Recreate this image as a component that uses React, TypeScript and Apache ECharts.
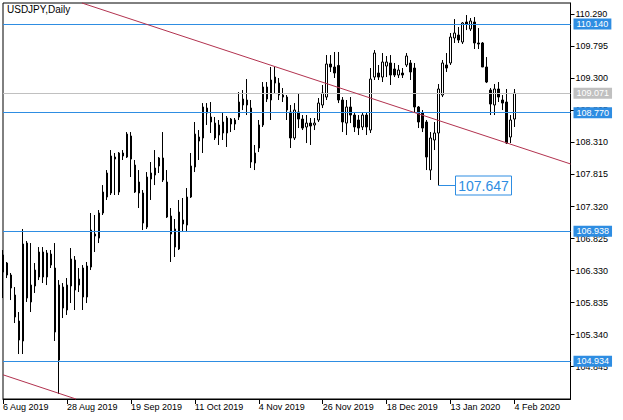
import React, { useEffect, useRef } from "react";
import * as echarts from "echarts";

// USDJPY daily candles, 6 Aug 2019 .. 4 Feb 2020 (index 0..128)
const opens = [
  106.571, 106.447, 106.262, 105.953, 105.551, 105.242, 106.756, 105.845, 106.092, 106.231,
  106.617, 106.231, 106.586, 106.370, 104.948, 106.076, 105.721, 106.092, 106.493, 106.107,
  106.370, 105.922, 106.385, 106.895, 106.833, 107.220, 107.467, 107.529, 108.085, 107.544,
  108.147, 108.085, 108.410, 107.961, 107.699, 107.529, 107.003, 107.745, 107.807, 107.946,
  108.070, 107.699, 107.173, 106.694, 106.664, 107.112, 107.034, 107.467, 107.931, 108.332,
  108.379, 108.842, 108.703, 108.610, 108.425, 108.626, 108.456, 108.672, 108.595, 108.703,
  108.981, 108.889, 108.842, 107.992, 108.224, 108.580, 109.167, 108.966, 109.321, 109.228,
  109.043, 109.012, 108.780, 108.379, 108.780, 108.672, 108.549, 108.610, 108.580, 108.657,
  108.889, 109.012, 109.522, 109.476, 109.500, 108.966, 108.610, 108.858, 108.734, 108.657,
  108.549, 108.734, 108.502, 109.321, 109.383, 109.321, 109.491, 109.538, 109.445, 109.352,
  109.383, 109.507, 109.538, 109.460, 108.858, 108.765, 108.626, 107.884, 108.348, 108.456,
  109.043, 109.507, 109.538, 109.924, 109.970, 109.862, 110.171, 110.063, 110.171, 109.847,
  109.847, 109.476, 109.120, 108.889, 109.136, 108.966, 108.935, 108.394, 108.672,
];
const closes = [
  106.308, 106.262, 106.061, 105.613, 105.257, 106.741, 105.906, 106.107, 106.339, 106.617,
  106.231, 106.602, 106.416, 105.381, 106.107, 105.752, 106.107, 106.509, 106.030, 106.200,
  105.922, 106.401, 106.957, 106.864, 107.220, 107.544, 107.838, 108.101, 108.054, 108.147,
  108.101, 108.440, 108.054, 107.544, 107.529, 107.065, 107.776, 107.838, 107.915, 108.070,
  107.730, 107.158, 106.895, 106.973, 107.235, 107.050, 107.467, 107.946, 108.440, 108.394,
  108.858, 108.765, 108.626, 108.379, 108.580, 108.456, 108.688, 108.595, 108.657, 108.935,
  108.889, 108.966, 108.008, 108.147, 108.580, 109.167, 108.981, 109.275, 109.228, 109.043,
  109.012, 108.811, 108.379, 108.811, 108.672, 108.533, 108.610, 108.564, 108.610, 108.919,
  109.074, 109.522, 109.476, 109.383, 108.966, 108.626, 108.858, 108.734, 108.549, 108.533,
  108.734, 108.549, 109.290, 109.692, 109.321, 109.553, 109.553, 109.352, 109.352, 109.429,
  109.352, 109.646, 109.399, 108.858, 108.626, 108.533, 108.085, 108.379, 108.456, 109.136,
  109.538, 109.460, 109.939, 110.001, 109.893, 110.156, 110.140, 110.187, 109.847, 109.831,
  109.476, 109.244, 108.904, 109.136, 109.012, 108.919, 108.301, 108.657, 109.071,
];
const lows = [
  105.906, 106.215, 105.875, 105.520, 105.041, 105.041, 105.845, 105.690, 105.984, 106.184,
  106.138, 106.107, 106.370, 105.242, 104.423, 105.597, 105.644, 105.829, 105.721, 105.999,
  105.721, 105.829, 106.339, 106.617, 106.756, 107.189, 107.421, 107.498, 107.498, 107.498,
  108.039, 108.070, 107.776, 107.529, 107.297, 106.957, 106.973, 107.421, 107.652, 107.838,
  107.699, 107.143, 106.463, 106.540, 106.648, 106.926, 106.926, 107.452, 107.853, 108.039,
  108.147, 108.580, 108.456, 108.348, 108.271, 108.348, 108.240, 108.471, 108.502, 108.657,
  108.811, 108.734, 107.915, 107.884, 108.162, 108.549, 108.935, 108.657, 109.074, 108.966,
  108.935, 108.657, 108.224, 108.348, 108.533, 108.502, 108.301, 108.271, 108.502, 108.626,
  108.842, 108.966, 109.399, 109.306, 108.919, 108.471, 108.425, 108.610, 108.471, 108.425,
  108.502, 108.425, 108.456, 109.275, 109.275, 109.244, 109.321, 109.198, 109.321, 109.306,
  109.306, 109.476, 109.275, 108.780, 108.533, 108.471, 107.884, 107.730, 108.193, 107.647,
  109.012, 109.399, 109.507, 109.847, 109.847, 109.831, 110.047, 110.032, 109.754, 109.754,
  109.476, 109.228, 108.734, 108.734, 108.935, 108.811, 108.286, 108.301, 108.549,
];
const highs = [
  106.648, 106.463, 106.293, 106.076, 105.690, 106.973, 106.787, 106.756, 106.447, 106.694,
  106.694, 106.648, 106.648, 106.756, 106.184, 106.138, 106.215, 106.679, 106.555, 106.370,
  106.416, 106.463, 107.220, 107.189, 107.266, 107.652, 107.884, 108.193, 108.147, 108.162,
  108.193, 108.471, 108.471, 108.039, 107.884, 107.575, 107.853, 108.008, 108.193, 108.085,
  108.471, 107.884, 107.297, 107.127, 107.421, 107.452, 107.606, 108.147, 108.626, 108.502,
  108.919, 108.919, 108.935, 108.703, 108.657, 108.765, 108.719, 108.688, 108.688, 109.089,
  109.120, 109.290, 108.966, 108.271, 108.657, 109.244, 109.244, 109.476, 109.476, 109.306,
  109.151, 109.043, 108.889, 108.919, 109.074, 108.734, 108.734, 108.688, 108.688, 108.997,
  109.198, 109.661, 109.661, 109.708, 109.708, 109.012, 108.966, 109.012, 108.780, 108.734,
  108.780, 108.780, 109.460, 109.738, 109.507, 109.692, 109.646, 109.661, 109.538, 109.507,
  109.460, 109.692, 109.584, 109.538, 108.873, 108.811, 108.657, 108.471, 108.626, 109.213,
  109.584, 109.692, 110.001, 110.217, 110.094, 110.171, 110.279, 110.233, 110.248, 110.078,
  109.862, 109.630, 109.151, 109.213, 109.244, 109.043, 109.136, 108.734, 109.136,
];

const tickIndices = [0, 16, 32, 48, 64, 80, 96, 112, 128];
const tickLabels = [
  "6 Aug 2019", "28 Aug 2019", "19 Sep 2019", "11 Oct 2019", "4 Nov 2019",
  "26 Nov 2019", "18 Dec 2019", "13 Jan 2020", "4 Feb 2020",
];
const yTicks = [104.845, 105.34, 105.835, 106.33, 106.825, 107.32, 107.815, 108.31, 108.805, 109.3, 109.795, 110.29];

const blueLevels = [110.14, 108.77, 106.938, 104.934];
const bidLevel = 109.071;
const trendUpper = [[19.75, 110.465], [142, 107.978]];
const trendLower = [[0, 104.72], [18.25, 104.346]];
const lowIndex = 109;
const lowValue = 107.647;

const Y_MIN = 104.346;
const Y_MAX = 110.465;
const X_MAX = 142;

export default function App() {
  const ref = useRef<HTMLDivElement>(null);

  useEffect(() => {
    if (!ref.current) return;
    const chart = echarts.init(ref.current, null, { renderer: "svg" });
    const FONT = "'Liberation Sans', Arial, sans-serif";
    const BLUE = "#2e8de2";
    const SILVER = "#c0c0c0";
    const RED = "#b2324f";

    const candles = opens.map((o, i) => [i, o, closes[i], lows[i], highs[i]]);

    const tagLabel = (v: number, bg: string) => ({
      show: true,
      position: "end",
      formatter: () => v.toFixed(3),
      backgroundColor: bg,
      color: "#fff",
      padding: [1, 3, 1, 3],
      fontSize: 9,
      lineHeight: 9,
      fontFamily: FONT,
      distance: 3,
    });

    const option: any = {
      animation: false,
      backgroundColor: "#fff",
      grid: {
        left: 2.5,
        top: 3,
        right: 52.5,
        bottom: 21,
        show: true,
        borderColor: "#000",
        borderWidth: 1,
        backgroundColor: "#fff",
      },
      xAxis: {
        type: "value",
        min: 0,
        max: X_MAX,
        axisLine: { show: true, onZero: false, lineStyle: { color: "#000", width: 1 } },
        axisTick: { show: true, customValues: tickIndices, length: 5, lineStyle: { color: "#000" } },
        axisLabel: {
          customValues: tickIndices,
          formatter: (v: number) => {
            const k = tickIndices.indexOf(Math.round(v));
            return k >= 0 ? tickLabels[k] : "";
          },
          align: "left",
          margin: 3,
          fontSize: 9,
          color: "#000",
          fontFamily: FONT,
          showMinLabel: true,
          showMaxLabel: true,
        },
        splitLine: { show: false },
      },
      yAxis: {
        type: "value",
        position: "right",
        min: Y_MIN,
        max: Y_MAX,
        axisLine: { show: true, onZero: false, lineStyle: { color: "#000", width: 1 } },
        axisTick: { show: true, customValues: yTicks, length: 4, lineStyle: { color: "#000" } },
        axisLabel: {
          customValues: yTicks,
          formatter: (v: number) => v.toFixed(3),
          margin: 5,
          fontSize: 9,
          color: "#000",
          fontFamily: FONT,
        },
        splitLine: { show: false },
      },
      series: [
        {
          type: "candlestick",
          data: candles,
          encode: { x: 0, y: [1, 2, 3, 4] },
          barWidth: 2,
          clip: true,
          itemStyle: {
            color: "#ffffff",
            color0: "#000000",
            borderColor: "#000000",
            borderColor0: "#000000",
            borderWidth: 1,
          },
          markLine: {
            silent: true,
            animation: false,
            symbol: ["none", "none"],
            data: [
              ...blueLevels.map((v) => ({
                yAxis: v,
                lineStyle: { color: BLUE, width: 1, type: "solid" },
                label: tagLabel(v, BLUE),
              })),
              {
                yAxis: bidLevel,
                lineStyle: { color: SILVER, width: 1, type: "solid" },
                label: tagLabel(bidLevel, SILVER),
              },
              [
                { coord: trendUpper[0], lineStyle: { color: RED, width: 1, type: "solid" }, label: { show: false } },
                { coord: trendUpper[1] },
              ],
              [
                { coord: trendLower[0], lineStyle: { color: RED, width: 1, type: "solid" }, label: { show: false } },
                { coord: trendLower[1] },
              ],
            ],
          },
        },
      ],
    };
    chart.setOption(option);

    const p = chart.convertToPixel({ gridIndex: 0 } as any, [lowIndex, lowValue]) as number[];
    const px = Math.floor(p[0]) + 0.5;
    const py = Math.round(p[1]) + 0.5;
    chart.setOption({
      graphic: [
        {
          type: "text",
          x: 7,
          y: 4,
          style: { text: "USDJPY,Daily", fontSize: 10, fontFamily: FONT, fill: "#000", verticalAlign: "top" },
        },
        {
          type: "line",
          shape: { x1: px, y1: py, x2: px + 17, y2: py },
          style: { stroke: BLUE, lineWidth: 1 },
        },
        {
          type: "rect",
          shape: { x: px + 17, y: py - 9.5, width: 56, height: 19 },
          style: { fill: "#fff", stroke: BLUE, lineWidth: 1 },
        },
        {
          type: "text",
          x: px + 45,
          y: py + 0.5,
          style: {
            text: lowValue.toFixed(3),
            fill: BLUE,
            fontSize: 14,
            fontFamily: FONT,
            align: "center",
            verticalAlign: "middle",
          },
        },
      ],
    });

    return () => chart.dispose();
  }, []);

  return (
    <div
      ref={ref}
      style={{ position: "fixed", left: 0, top: 0, width: 623, height: 420, background: "#fff" }}
    />
  );
}
